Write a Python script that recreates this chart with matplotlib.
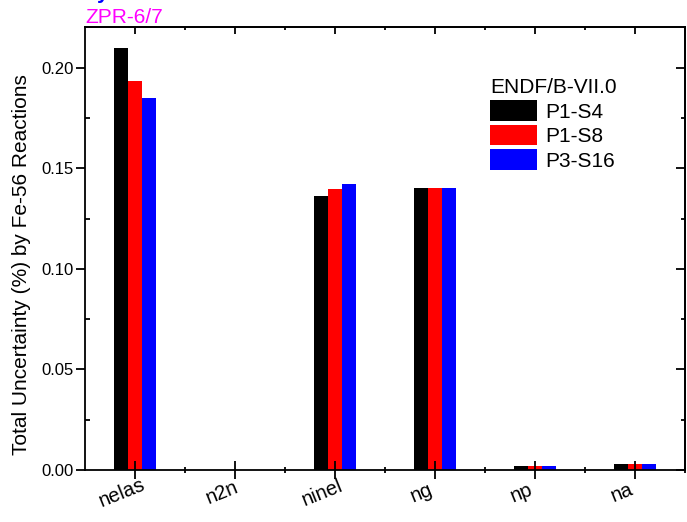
import matplotlib
matplotlib.use('Agg')
import matplotlib.pyplot as plt
import matplotlib.transforms as mtransforms
from matplotlib.ticker import FormatStrFormatter
import numpy as np

plt.rcParams['font.family'] = ['Liberation Sans', 'DejaVu Sans']

# Fe-56 reaction contributions
reactions = ['nelas', 'n2n', 'ninel', 'ng', 'np', 'na']
p1_s4 = [0.2096, 0.0002, 0.1362, 0.1404, 0.0019, 0.0031]
p1_s8 = [0.1934, 0.0002, 0.1397, 0.1402, 0.0018, 0.0030]
p3_s16 = [0.1849, 0.0002, 0.1420, 0.1404, 0.0019, 0.0031]
series_names = ['P1-S4', 'P1-S8', 'P3-S16']
colors = ['#000000', '#ff0000', '#0000ff']
y_major = [0.00, 0.05, 0.10, 0.15, 0.20]
y_minor = [0.025, 0.075, 0.125, 0.175]

fig = plt.figure(figsize=(6.87, 5.22), dpi=100)
ax = fig.add_axes([85/687, 52/522, 600/687, 443/522])

x = np.arange(len(reactions))
x_minor = np.arange(len(reactions)) + 0.5
w = 0.14
all_series = [p1_s4, p1_s8, p3_s16]
for i in range(len(all_series)):
    ax.bar(x + (i - 1)*w, all_series[i], width=w, color=colors[i],
           label=series_names[i], linewidth=0)

ax.set_xlim(-0.5, 5.5)
ax.set_ylim(0, 0.2202)

lw = 1.3
for s in ax.spines.values():
    s.set_linewidth(lw)

ax.set_yticks(y_major)
ax.set_yticks(y_minor, minor=True)
ax.yaxis.set_major_formatter(FormatStrFormatter('%.2f'))
ax.set_xticks(x)
ax.set_xticks(x_minor, minor=True)
ax.set_xticklabels(reactions)

ax.tick_params(axis='y', which='major', direction='out', length=6.5, width=lw,
               labelsize=12, pad=1.5)
ax.tick_params(axis='y', which='minor', direction='in', length=3.3, width=lw)
ax.tick_params(axis='x', which='major', direction='inout', length=13, width=lw,
               labelsize=14.5)
ax.tick_params(axis='x', which='minor', direction='inout', length=5, width=lw)

# top / right axes with ticks only
top = ax.secondary_xaxis('top')
top.set_xticks(x)
top.set_xticks(x_minor, minor=True)
top.tick_params(which='major', direction='in', length=5.3, width=lw, labeltop=False)
top.tick_params(which='minor', direction='in', length=2.5, width=lw)
right = ax.secondary_yaxis('right')
right.set_yticks(y_major)
right.set_yticks(y_minor, minor=True)
right.tick_params(which='major', direction='in', length=6.2, width=lw, labelright=False)
right.tick_params(which='minor', direction='in', length=3.1, width=lw)
for s in list(top.spines.values()) + list(right.spines.values()):
    s.set_linewidth(lw)

# rotated category labels
offset = mtransforms.ScaledTranslation(-13/100, -9/100, fig.dpi_scale_trans)
for lbl in ax.get_xticklabels():
    lbl.set_rotation(22)
    lbl.set_rotation_mode('anchor')
    lbl.set_ha('center')
    lbl.set_va('center')
    lbl.set_transform(lbl.get_transform() + offset)

ax.set_ylabel('Total Uncertainty (%) by Fe-56 Reactions', fontsize=15)
ax.yaxis.set_label_coords(-0.09, 0.463)

ax.legend(title='ENDF/B-VII.0', loc='upper left',
          bbox_to_anchor=((490 - 85)/600, (470 - 78)/443),
          frameon=False, fontsize=15, title_fontsize=15, alignment='left',
          handlelength=2.25, handleheight=1.15, handletextpad=0.38,
          labelspacing=0.15, borderpad=0, borderaxespad=0)

fig.text(85/687, 1 - 23/522, 'ZPR-6/7', color='#ff00ff', fontsize=15,
         va='baseline')
fig.text(97/687, 1 + 1/522, 'y', color='#0000ff', fontsize=15,
         fontweight='bold', va='baseline')

fig.savefig('out.png', dpi=100)
